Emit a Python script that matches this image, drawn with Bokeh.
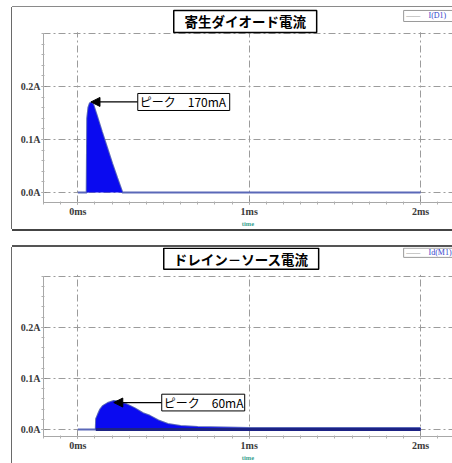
from bokeh.plotting import figure
from bokeh.layouts import column
from bokeh.models import FixedTicker, PrintfTickFormatter, Label, Arrow, NormalHead, BoxAnnotation
from bokeh.embed import file_html
from bokeh.resources import INLINE

# ---------------- data ----------------
# time in ms, current in A
diode_t = [0.0, 0.052, 0.055, 0.062, 0.07, 0.08, 0.09, 0.11, 0.14, 0.17, 0.20, 0.23, 0.26, 2.0]
diode_i = [0.0, 0.0, 0.14, 0.160, 0.168, 0.170, 0.166, 0.146, 0.115, 0.085, 0.055, 0.027, 0.0, 0.0]

ds_t = [0.0, 0.105, 0.107, 0.117, 0.13, 0.146, 0.175, 0.21, 0.24, 0.28, 0.33, 0.38, 0.42,
        0.47, 0.525, 0.6, 0.7, 0.85, 1.0, 1.5, 2.0]
ds_i = [0.0, 0.0, 0.021, 0.029, 0.039, 0.046, 0.052, 0.056, 0.055, 0.050, 0.042, 0.032, 0.027,
        0.018, 0.011, 0.007, 0.005, 0.004, 0.003, 0.003, 0.003]

x_ticks = [0, 1, 2]
y_ticks = [0.0, 0.1, 0.2]
y_grid_top = 0.3
titles = ["寄生ダイオード電流", "ドレイン－ソース電流"]
peak_texts = ["ピーク\u3000170mA", "ピーク\u300060mA"]
peak_t = [0.077, 0.21]
peak_i = [0.1708, 0.0529]
trace_names = ["I(D1)", "Id(M1)"]
x_label = "time"

# ---------------- styling helpers ----------------
TICK_FONT = "Liberation Serif"
JP_FONT = "Noto Sans CJK JP"
GRID_COLOR = "#9c9c9c"


def box(l, r, tp, bt, line_color, line_width):
    return BoxAnnotation(left=l, right=r, top=tp, bottom=bt, fill_color="white",
                         fill_alpha=1.0, line_color=line_color, line_alpha=1.0,
                         line_width=line_width)


def make_panel(t, i, title, peak_text, pk_t, pk_i, name, height, y_range, min_bottom,
               margin, styles, title_box, peak_box, legend_box, navy_base):
    p = figure(width=440, height=height, x_range=(-0.2, 2.186), y_range=y_range,
               output_backend="svg", toolbar_location=None,
               min_border_left=31, min_border_right=0, min_border_top=0,
               min_border_bottom=min_bottom, margin=margin, styles=styles,
               background_fill_color="white", border_fill_color="white")
    p.outline_line_color = None

    # axes
    p.xaxis.ticker = FixedTicker(ticks=x_ticks, minor_ticks=[k / 10 for k in range(-2, 22)])
    p.yaxis.ticker = FixedTicker(ticks=y_ticks, minor_ticks=[k / 50 for k in range(0, 16)])
    p.xaxis.formatter = PrintfTickFormatter(format="%dms")
    p.yaxis.formatter = PrintfTickFormatter(format="%.1fA")
    p.yaxis.bounds = (y_range[0], y_grid_top)
    for ax in (p.xaxis[0], p.yaxis[0]):
        ax.axis_line_color = "#a8a8a8"
        ax.axis_line_width = 1
        ax.major_tick_line_color = "#888888"
        ax.minor_tick_line_color = "#b0b0b0"
        ax.major_tick_in = 3
        ax.major_tick_out = 2
        ax.minor_tick_in = 1
        ax.minor_tick_out = 2
        ax.major_label_text_font = TICK_FONT
        ax.major_label_text_font_style = "bold"
        ax.major_label_text_font_size = "10px"
        ax.major_label_text_color = "#3a3a3a"
        ax.major_label_standoff = 1
    p.xaxis.axis_label = x_label
    p.xaxis.axis_label_text_font = TICK_FONT
    p.xaxis.axis_label_text_font_size = "6.5px"
    p.xaxis.axis_label_text_font_style = "bold"
    p.xaxis.axis_label_text_color = "#3aa38f"
    p.xaxis.axis_label_standoff = 0

    # grid
    p.xgrid.ticker = FixedTicker(ticks=x_ticks)
    p.ygrid.ticker = FixedTicker(ticks=y_ticks + [y_grid_top])
    for g in (p.xgrid[0], p.ygrid[0]):
        g.grid_line_color = GRID_COLOR
        g.grid_line_dash = "7 3 2 3"
        g.grid_line_width = 1

    # waveform
    p.line(t, i, line_color="#5a68b8", line_width=2)
    p.varea(x=t, y1=[0.0] * len(t), y2=i, fill_color="#0a0af0", fill_alpha=1.0)
    if navy_base:
        p.line([t[1], t[-1]], [0.0, 0.0], line_color="#1c2284", line_width=3)

    # white area above the plotting box (title strip)
    p.add_layout(BoxAnnotation(bottom=y_grid_top + 0.0025, fill_color="white",
                               fill_alpha=1.0, line_color=None))

    # title box
    l, r, tp, bt = title_box
    p.add_layout(box(l, r, tp, bt, "black", 1.5))
    p.add_layout(Label(x=(l + r) / 2, y=(tp + bt) / 2, text=title, text_font=JP_FONT,
                       text_font_style="bold", text_font_size="13.5px", text_color="black",
                       text_align="center", text_baseline="middle"))

    # small trace legend box (top right)
    l, r, tp, bt = legend_box
    p.add_layout(box(l, r, tp, bt, "#9a9a9a", 1))
    p.add_layout(Label(x=l + 0.015, y=(tp + bt) / 2, text="——", text_font=TICK_FONT,
                       text_font_size="7px", text_color="#555555",
                       text_align="left", text_baseline="middle"))
    p.add_layout(Label(x=l + 0.145, y=(tp + bt) / 2, text=name, text_font=TICK_FONT,
                       text_font_size="8px", text_color="#3344cc",
                       text_align="left", text_baseline="middle"))

    # peak annotation
    l, r, tp, bt = peak_box
    p.add_layout(Arrow(end=NormalHead(size=9, fill_color="black", line_color="black"),
                       x_start=l, y_start=pk_i, x_end=pk_t, y_end=pk_i,
                       line_color="black", line_width=1.3))
    p.add_layout(box(l, r, tp, bt, "black", 1))
    p.add_layout(Label(x=l, y=(tp + bt) / 2, text=peak_text, text_font=JP_FONT,
                       text_font_size="12px", text_color="black", x_offset=2,
                       text_align="left", text_baseline="middle"))
    return p


p1 = make_panel(diode_t, diode_i, titles[0], peak_texts[0], peak_t[0], peak_i[0],
                trace_names[0], height=222, y_range=(-0.0189, 0.349), min_bottom=27,
                margin=(7, 0, 0, 12),
                styles={"box-shadow": "-1px 0 0 0 #6a6a6a, 0 -1px 0 0 #8a8a8a, 0 2px 0 0 #444444"},
                title_box=(0.5598, 1.3936, 0.3434, 0.3019),
                peak_box=(0.3499, 0.8863, 0.1868, 0.1547),
                legend_box=(1.9009, 2.25, 0.3434, 0.3226),
                navy_base=False)

p2 = make_panel(ds_t, ds_i, titles[1], peak_texts[1], peak_t[1], peak_i[1],
                trace_names[1], height=216, y_range=(-0.01346, 0.3558), min_bottom=24,
                margin=(18, 0, 0, 12),
                styles={"box-shadow": "-1px 0 0 0 #6a6a6a, 0 -2px 0 0 #555555"},
                title_box=(0.5015, 1.4052, 0.3545, 0.3135),
                peak_box=(0.4898, 0.9738, 0.0692, 0.0365),
                legend_box=(1.9009, 2.25, 0.3545, 0.3365),
                navy_base=True)

layout = column(p1, p2)
open("out.html", "w").write(file_html(layout, INLINE))
